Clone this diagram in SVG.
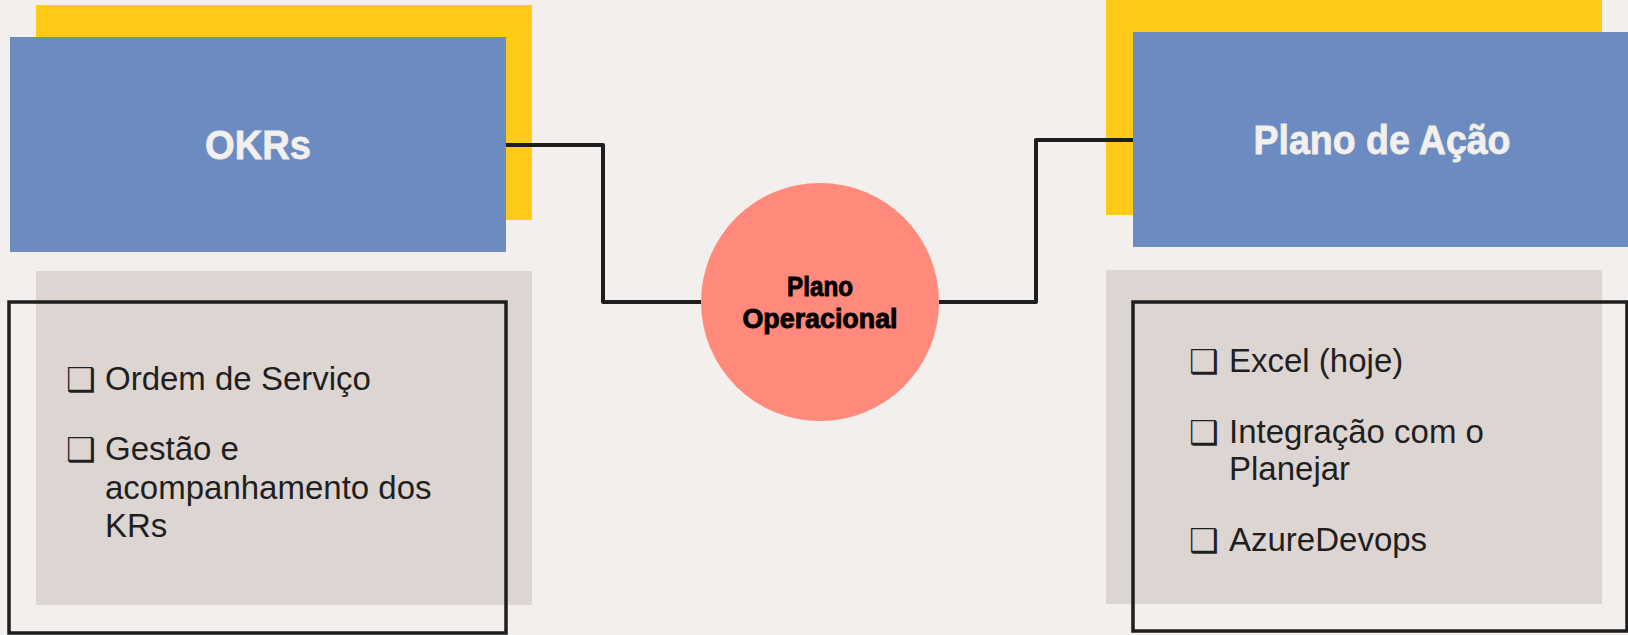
<svg xmlns="http://www.w3.org/2000/svg" width="1628" height="635" viewBox="0 0 1628 635">
<style>
.bg{fill:#f2efec}
.yel{fill:#ffca18}
.blue{fill:#6c8bc0}
.gray{fill:#ddd5d2}
.frame{fill:none;stroke:#1e1e1e;stroke-width:3.5}
.title{font-family:"Liberation Sans",Arial,sans-serif;font-weight:bold;font-size:41px;fill:#f2efec;stroke:#f2efec;stroke-width:0.8;text-anchor:middle}
.item{font-family:"Liberation Sans",Arial,sans-serif;font-size:33px;fill:#1f1f1f}
.bul{font-family:"DejaVu Sans",sans-serif;font-weight:bold;font-size:33px;fill:#1f1f1f}
.center{font-family:"Liberation Sans",Arial,sans-serif;font-weight:bold;font-size:27px;fill:#000;stroke:#000;stroke-width:0.9;text-anchor:middle}
.conn{fill:none;stroke:#1e1e1e;stroke-width:4;stroke-linejoin:round}
</style>
<rect class="bg" x="0" y="0" width="1628" height="635"/>
<g id="okrs">
  <rect class="yel" x="36" y="5" width="496" height="215"/>
  <rect class="blue" x="10" y="37" width="496" height="215"/>
  <text class="title" x="258" y="159" textLength="106" lengthAdjust="spacingAndGlyphs">OKRs</text>
</g>
<g id="okrs-list">
  <rect class="gray" x="36" y="271" width="496" height="334"/>
  <rect class="frame" x="9" y="302" width="497" height="331"/>
  <text class="bul" x="66" y="391">❑</text>
  <text class="item" x="105" y="390">Ordem de Serviço</text>
  <text class="bul" x="66" y="461">❑</text>
  <text class="item" x="105" y="460">Gestão e</text>
  <text class="item" x="105" y="499">acompanhamento dos</text>
  <text class="item" x="105" y="537">KRs</text>
</g>
<g id="plano-acao">
  <rect class="yel" x="1106" y="0" width="496" height="215"/>
  <rect class="blue" x="1133" y="32" width="496" height="215"/>
  <text class="title" x="1382" y="154" textLength="257" lengthAdjust="spacingAndGlyphs">Plano de Ação</text>
</g>
<g id="plano-acao-list">
  <rect class="gray" x="1106" y="270" width="496" height="334"/>
  <rect class="frame" x="1133" y="302" width="494" height="329"/>
  <text class="bul" x="1189" y="373">❑</text>
  <text class="item" x="1229" y="372">Excel (hoje)</text>
  <text class="bul" x="1189" y="444">❑</text>
  <text class="item" x="1229" y="443">Integração com o</text>
  <text class="item" x="1229" y="480">Planejar</text>
  <text class="bul" x="1189" y="552">❑</text>
  <text class="item" x="1229" y="551">AzureDevops</text>
</g>
<g id="plano-operacional">
  <circle cx="820" cy="302" r="119" fill="#ff8a7c"/>
  <text class="center" x="820" y="296" textLength="66" lengthAdjust="spacingAndGlyphs">Plano</text>
  <text class="center" x="820" y="328" textLength="155" lengthAdjust="spacingAndGlyphs">Operacional</text>
</g>
<g id="connectors">
  <polyline class="conn" points="506,145 603,145 603,302 701,302"/>
  <polyline class="conn" points="939,302 1036,302 1036,140 1133,140"/>
</g>
</svg>
